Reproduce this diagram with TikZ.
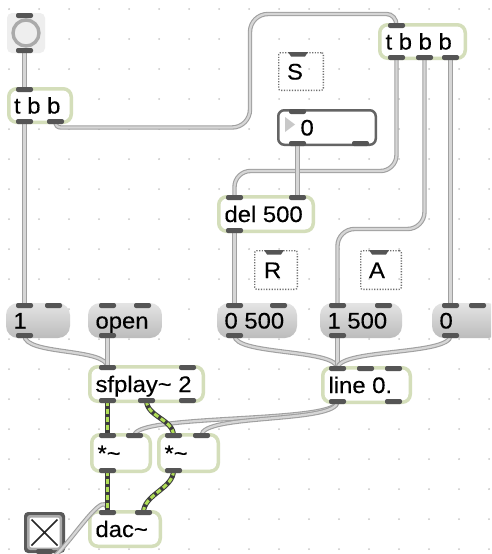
\documentclass[tikz,border=0pt]{standalone}
\usepackage{fontspec}
\newfontfamily\maxfont[FakeStretch=1.06,FakeBold=0.35]{Liberation Sans}
\definecolor{objgreen}{RGB}{212,222,186}
\definecolor{portc}{RGB}{85,85,85}
\definecolor{gridc}{RGB}{200,200,200}
\definecolor{cordout}{RGB}{160,160,160}
\definecolor{cordin}{RGB}{214,214,214}
\definecolor{sigdark}{RGB}{60,60,60}
\definecolor{siggreen}{RGB}{176,222,86}
\definecolor{msgtop}{RGB}{228,228,228}
\definecolor{msgbot}{RGB}{188,188,188}
\definecolor{numframe}{RGB}{100,100,100}
\definecolor{numtri}{RGB}{200,200,200}
\definecolor{cmtc}{RGB}{110,110,110}
\definecolor{bangbg}{RGB}{238,238,238}
\definecolor{bangring}{RGB}{170,170,170}
\definecolor{togframe}{RGB}{90,90,90}
\definecolor{togmid}{RGB}{170,170,170}
\tikzset{
  lbl/.style={anchor=base west, inner sep=0pt, outer sep=0pt, text=black,
    font=\maxfont\fontsize{22.5}{26}\selectfont},
  bx/.style n args={5}{at={({(#1+#3)/2},{(#2+#4)/2})},
    minimum width={#3-#1-#5}, minimum height={#4-#2-#5}, inner sep=0pt, outer sep=0pt},
  objbox/.style n args={4}{draw=objgreen, line width=3.5pt, fill=white,
    rounded corners=8pt, bx={#1}{#2}{#3}{#4}{3.5}},
  msgbox/.style n args={4}{top color=msgtop, bottom color=msgbot,
    rounded corners=12pt, bx={#1}{#2}{#3}{#4}{0}},
  numbox/.style n args={4}{draw=numframe, line width=2.5pt, fill=white,
    rounded corners=6pt, bx={#1}{#2}{#3}{#4}{2.5}},
  cmtbox/.style n args={4}{draw=cmtc, line width=1.3pt, dash pattern=on 1.2pt off 1.5pt,
    rounded corners=2pt, bx={#1}{#2}{#3}{#4}{1.3}},
  bangbox/.style n args={4}{fill=bangbg, rounded corners=5pt, bx={#1}{#2}{#3}{#4}{0}},
  cord/.style={line width=4.4pt, draw=cordout, postaction={draw=cordin, line width=2.2pt}},
  sig/.style={line width=5pt, draw=sigdark,
    postaction={draw=siggreen, line width=3pt, dash pattern=on 5pt off 3pt}},
  portbar/.style={fill=portc, rounded corners=2pt},
}
% inlet / outlet bar with its top-left corner at (#1,#2)
\newcommand\maxport[2]{\fill[portbar] (#1,#2) rectangle ++(17,5);}
% inlet tab above a comment box
\newcommand\maxbar[2]{\fill[portc] (#1,#2) -- ++(20,0) -- ++(-3,4.5) -- ++(-14,0) -- cycle;}
\begin{document}
\begin{tikzpicture}[x=1pt,y=-1pt]
\clip (0,0) rectangle (491,554);
\fill[white] (0,0) rectangle (491,554);
% editing grid
\foreach \i in {0,...,16}{\foreach \j in {0,...,18}{\fill[gridc] (9+30*\i,9+30*\j) circle (1pt);}}

% ---------- boxes ----------
\node[bangbox={7}{13}{45}{53}] (bang) {};
\draw[bangring, line width=3.4pt] (26,33) circle (13pt);

\node[objbox={7}{87}{73}{124}] (tbbL) {};
\node[lbl] (tbbL-t) at (14,113.5) {t b b};

\node[objbox={378}{23}{467}{60}] (tbbbR) {};
\node[lbl] (tbbbR-t) at (385.5,49.5) {t b b b};

\node[cmtbox={278}{52}{324}{91}] (cS) {};
\node[lbl] (cS-t) at (287,79.5) {S};

\node[numbox={277}{109}{377}{146}] (num) {};
\fill[numtri] (285,117) -- (285,132) -- (295,124.5) -- cycle;
\node[lbl] (num-t) at (300.5,135.5) {0};

\node[objbox={217}{195}{315}{233}] (del) {};
\node[lbl] (del-t) at (224.5,222) {del 500};

\node[cmtbox={254}{250}{298}{290}] (cR) {};
\node[lbl] (cR-t) at (264,278) {R};
\node[cmtbox={360}{250}{402}{290}] (cA) {};
\node[lbl] (cA-t) at (369,278) {A};

\node[msgbox={6}{303}{70}{338}] (m1) {};
\node[lbl] (m1-t) at (13.5,328.5) {1};
\node[msgbox={88}{303}{162}{338}] (mopen) {};
\node[lbl] (mopen-t) at (95.5,328.5) {open};
\node[msgbox={217}{303}{297}{338}] (m0500) {};
\node[lbl] (m0500-t) at (224.5,328.5) {0 500};
\node[msgbox={320}{303}{402}{338}] (m1500) {};
\node[lbl] (m1500-t) at (327.5,328.5) {1 500};
\node[msgbox={432}{303}{500}{338}] (m0) {};
\node[lbl] (m0-t) at (439.5,328.5) {0};

\node[objbox={88}{365}{205}{403}] (sf) {};
\node[lbl] (sf-t) at (95.5,392) {sfplay\char`~\ 2};
\node[objbox={321}{366}{412}{404}] (line) {};
\node[lbl] (line-t) at (328.5,393) {line 0.};

\node[objbox={90}{433}{152}{473}] (mulL) {};
\node[lbl] (mulL-t) at (97.5,461) {*\char`~};
\node[objbox={157}{433}{220}{473}] (mulR) {};
\node[lbl] (mulR-t) at (164.5,461) {*\char`~};

\node[objbox={88}{510}{162}{548}] (dac) {};
\node[lbl] (dac-t) at (95.5,537) {dac\char`~};

\node[bx={24}{512}{65}{553}{0}, fill=togframe, rounded corners=4pt] (tog) {};
\fill[togmid, rounded corners=3pt] (27,515) rectangle (62,550);
\fill[white, rounded corners=2pt] (29.5,517.5) rectangle (59.5,547.5);
\draw[black!85, line width=1.6pt] (31.5,519.5) -- (57.5,545.5) (57.5,519.5) -- (31.5,545.5);

% ---------- port positions ----------
\coordinate (bang-o) at (24.5,50.5);
\coordinate (tbbL-i1) at (24.5,89.5);
\coordinate (tbbL-o1) at (24.5,121.5);
\coordinate (tbbL-o2) at (55.5,121.5);
\coordinate (tbbbR-i1) at (396.5,25.5);
\coordinate (tbbbR-o1) at (396.5,57.5);
\coordinate (tbbbR-o2) at (424.5,57.5);
\coordinate (tbbbR-o3) at (450.5,57.5);
\coordinate (num-o1) at (297.5,143.5);
\coordinate (del-i1) at (234.5,197.5);
\coordinate (del-i2) at (297.5,197.5);
\coordinate (del-o1) at (234.5,230.5);
\coordinate (m1-i1) at (24.5,305.5);
\coordinate (m1-o) at (24.5,335.5);
\coordinate (mopen-o) at (107.5,335.5);
\coordinate (m0500-i1) at (234.5,305.5);
\coordinate (m0500-o) at (234.5,335.5);
\coordinate (m1500-i1) at (337.5,305.5);
\coordinate (m1500-o) at (337.5,335.5);
\coordinate (m0-i1) at (450.5,305.5);
\coordinate (m0-o) at (450.5,335.5);
\coordinate (sf-i1) at (107.5,367.5);
\coordinate (sf-o1) at (107.5,400.5);
\coordinate (sf-o2) at (146.5,400.5);
\coordinate (line-i1) at (337.5,368.5);
\coordinate (line-o1) at (337.5,401.5);
\coordinate (mulL-i1) at (107.5,435.5);
\coordinate (mulL-i2) at (134.5,435.5);
\coordinate (mulL-o) at (107.5,470.5);
\coordinate (mulR-i1) at (173.5,435.5);
\coordinate (mulR-i2) at (201.5,435.5);
\coordinate (mulR-o) at (173.5,470.5);
\coordinate (dac-i1) at (107.5,512.5);
\coordinate (dac-i2) at (143.5,512.5);
\coordinate (tog-o) at (44.5,551);

% ---------- patch cords ----------
\draw[cord] (bang-o) -- (tbbL-i1);
\draw[cord] (tbbL-o1) -- (m1-i1);
\draw[cord] (tbbL-o2) .. controls (55.5,125.5) and (57.5,127.5) .. (61,127.5)
  -- (232,127.5) .. controls (242,127.5) and (250,119.5) .. (250,109.5)
  -- (250,32) .. controls (250,22) and (258,14) .. (268,14)
  -- (386.5,14) .. controls (392,14) and (396.5,18.5) .. (tbbbR-i1);
\draw[cord] (tbbbR-o1) -- (396.5,155) .. controls (396.5,163.8) and (389.3,171) .. (380.5,171)
  -- (250.5,171) .. controls (241.7,171) and (234.5,178.2) .. (234.5,187) -- (del-i1);
\draw[cord] (tbbbR-o2) -- (424.5,212) .. controls (424.5,221.4) and (416.9,229) .. (407.5,229)
  -- (354.5,229) .. controls (345.1,229) and (337.5,236.6) .. (337.5,246) -- (m1500-i1);
\draw[cord] (tbbbR-o3) -- (m0-i1);
\draw[cord] (num-o1) -- (del-i2);
\draw[cord] (del-o1) -- (m0500-i1);
\draw[cord] (m1-o) .. controls +(0,20) and +(0,-20) .. (sf-i1);
\draw[cord] (mopen-o) -- (sf-i1);
\draw[cord] (m0500-o) .. controls +(0,20) and +(0,-20) .. (line-i1);
\draw[cord] (m1500-o) -- (line-i1);
\draw[cord] (m0-o) .. controls +(0,20) and +(0,-20) .. (line-i1);
\draw[cord] (line-o1) .. controls +(0,22) and +(0,-22) .. (mulL-i2);
\draw[cord] (line-o1) .. controls +(0,22) and +(0,-22) .. (mulR-i2);
\draw[cord] (tog-o) .. controls +(0,40) and +(0,-40) .. (dac-i1);
% signal cords
\draw[sig] (sf-o1) -- (mulL-i1);
\draw[sig] (sf-o2) .. controls +(0,16) and +(0,-16) .. (mulR-i1);
\draw[sig] (mulL-o) -- (dac-i1);
\draw[sig] (mulR-o) .. controls +(0,18) and +(0,-18) .. (dac-i2);

% ---------- inlets and outlets ----------
\maxport{16}{13}\maxport{16}{48}
\maxport{16}{87}\maxport{16}{119}\maxport{47}{119}
\maxport{388}{23}\maxport{388}{55}\maxport{416}{55}\maxport{442}{55}
\maxbar{288}{52}\maxbar{264}{250}\maxbar{369}{250}
\maxport{289}{109}\maxport{289}{141}\maxport{352}{141}
\maxport{226}{195}\maxport{289}{195}\maxport{226}{228}
\maxport{16}{303}\maxport{45}{303}\maxport{16}{333}
\maxport{99}{303}\maxport{134}{303}\maxport{99}{333}
\maxport{226}{303}\maxport{270}{303}\maxport{226}{333}
\maxport{329}{303}\maxport{375}{303}\maxport{329}{333}
\maxport{442}{303}\maxport{469}{303}\maxport{442}{333}
\maxport{99}{365}\maxport{179}{365}\maxport{99}{398}\maxport{138}{398}\maxport{179}{398}
\maxport{329}{366}\maxport{357}{366}\maxport{385}{366}\maxport{329}{399}\maxport{385}{399}
\maxport{99}{433}\maxport{126}{433}\maxport{99}{468}
\maxport{165}{433}\maxport{193}{433}\maxport{165}{468}
\maxport{99}{510}\maxport{135}{510}
\maxport{36}{549}
\end{tikzpicture}
\end{document}
